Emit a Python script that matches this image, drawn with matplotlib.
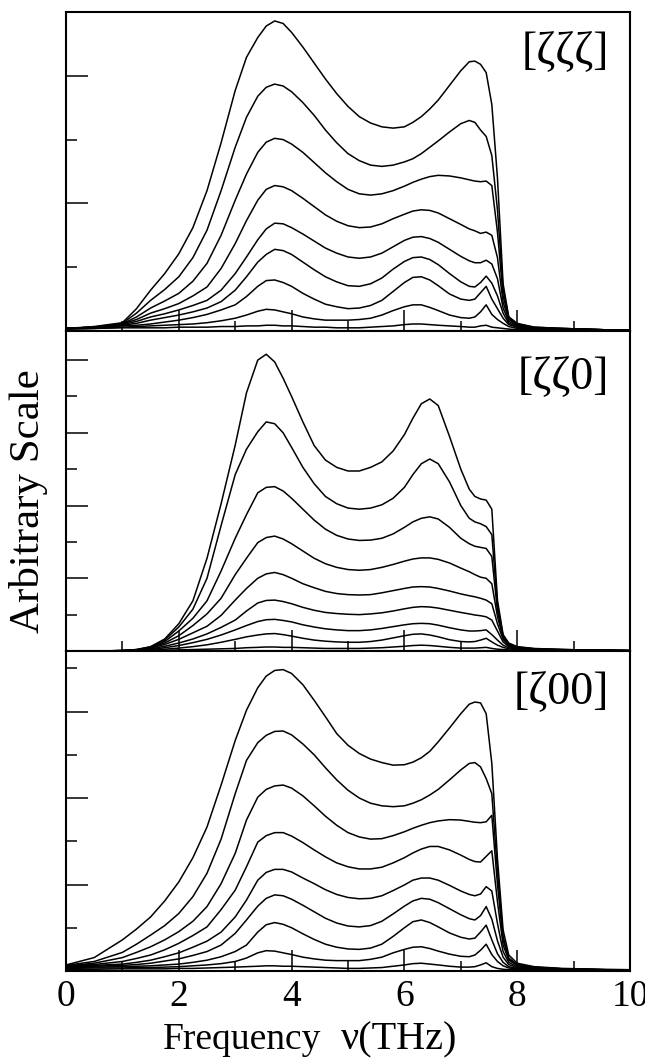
import numpy as np
import matplotlib
matplotlib.use('Agg')
import matplotlib.pyplot as plt
from matplotlib.ticker import MultipleLocator

plt.rcParams['font.family'] = ['Liberation Serif', 'DejaVu Serif']

# frequency grid (THz) the curves were read at
nu = [0, 0.5, 1.0, 1.25, 1.5, 1.75, 2.0, 2.25, 2.5, 2.75, 3.0, 3.2, 3.4, 3.55, 3.7, 3.85, 4.0,
      4.2, 4.4, 4.6, 4.8, 5.0, 5.2, 5.4, 5.6, 5.8, 6.0, 6.15, 6.3, 6.45, 6.6, 6.8, 7.0, 7.15, 7.25, 7.35, 7.45,
      7.55, 7.65, 7.75, 7.85, 8.0, 8.3, 8.8, 9.5, 10.0]

# [zzz] panel, curves from bottom to top
zzz = [
    [.03, .04, .05, .05, .05, .05, .06, .06, .06, .07, .07, .08, .08, .09, .09, .08, .08,
     .07, .06, .06, .05, .05, .05, .06, .07, .08, .10, .11, .11, .10, .09, .08, .07, .06, .06, .08, .09,
     .06, .05, .04, .03, .02, .02, .01, .01, .01],
    [.03, .04, .06, .07, .08, .09, .10, .11, .13, .16, .20, .25, .31, .34, .33, .30, .27,
     .22, .19, .17, .17, .17, .18, .20, .25, .32, .38, .41, .41, .37, .32, .25, .21, .20, .22, .30, .41,
     .26, .18, .12, .07, .04, .03, .02, .01, .01],
    [.04, .05, .08, .09, .11, .14, .17, .21, .26, .33, .41, .54, .70, .79, .80, .76, .70,
     .59, .50, .42, .38, .35, .36, .40, .48, .62, .76, .84, .85, .80, .71, .58, .50, .48, .50, .60, .70,
     .50, .35, .20, .10, .06, .04, .03, .02, .01],
    [.04, .05, .09, .12, .17, .21, .25, .30, .36, .46, .64, .85, 1.08, 1.20, 1.28, 1.26, 1.20,
     1.08, .96, .85, .77, .71, .70, .74, .83, .97, 1.09, 1.15, 1.16, 1.12, 1.04, .90, .77, .70, .69, .76, .86,
     .75, .55, .28, .12, .07, .04, .03, .02, .01],
    [.04, .06, .10, .15, .22, .27, .33, .40, .48, .64, .90, 1.16, 1.43, 1.60, 1.69, 1.68, 1.62,
     1.52, 1.41, 1.30, 1.22, 1.16, 1.14, 1.16, 1.22, 1.32, 1.42, 1.47, 1.48, 1.45, 1.39, 1.28, 1.17, 1.10, 1.07, 1.07, 1.11,
     1.05, .82, .36, .15, .08, .05, .03, .02, .01],
    [.04, .06, .11, .18, .28, .35, .43, .55, .69, .98, 1.37, 1.73, 2.05, 2.22, 2.28, 2.26, 2.20,
     2.08, 1.95, 1.82, 1.72, 1.65, 1.62, 1.63, 1.68, 1.76, 1.83, 1.88, 1.90, 1.89, 1.85, 1.76, 1.67, 1.60, 1.57, 1.53, 1.55,
     1.50, 1.15, .45, .18, .09, .05, .03, .02, .01],
    [.04, .06, .11, .22, .36, .47, .59, .78, 1.06, 1.50, 2.05, 2.46, 2.80, 2.96, 3.02, 3.00, 2.93,
     2.80, 2.64, 2.48, 2.34, 2.22, 2.15, 2.13, 2.15, 2.20, 2.27, 2.33, 2.38, 2.42, 2.44, 2.43, 2.40, 2.37, 2.35, 2.34, 2.35,
     2.28, 1.55, .55, .20, .10, .05, .04, .02, .01],
    [.04, .06, .12, .28, .48, .65, .85, 1.15, 1.58, 2.20, 2.88, 3.35, 3.68, 3.82, 3.87, 3.84, 3.75,
     3.58, 3.38, 3.15, 2.95, 2.78, 2.67, 2.60, 2.58, 2.60, 2.65, 2.70, 2.78, 2.88, 2.98, 3.12, 3.25, 3.30, 3.27, 3.15, 3.05,
     2.75, 1.90, .65, .22, .11, .06, .04, .02, .01],
    [.04, .07, .13, .35, .64, .90, 1.21, 1.62, 2.20, 2.95, 3.77, 4.29, 4.60, 4.78, 4.86, 4.82, 4.68,
     4.45, 4.20, 3.95, 3.72, 3.52, 3.36, 3.26, 3.20, 3.18, 3.20, 3.27, 3.36, 3.48, 3.62, 3.85, 4.08, 4.22, 4.23, 4.18, 4.05,
     3.55, 2.40, .74, .22, .12, .06, .04, .02, .01],
]

# [zz0] panel
zz0 = [
    [0, 0, 0, .01, .01, .02, .03, .04, .05, .06, .07, .09, .10, .11, .11, .10, .10,
     .09, .08, .07, .07, .07, .07, .08, .09, .11, .13, .15, .16, .15, .13, .10, .08, .08, .08, .09, .10,
     .07, .05, .04, .03, .02, .01, .01, .01, 0],
    [0, 0, 0, .01, .02, .05, .08, .12, .17, .24, .32, .39, .44, .47, .48, .45, .41,
     .35, .30, .27, .25, .24, .24, .26, .30, .36, .42, .46, .47, .44, .39, .31, .26, .25, .26, .30, .35,
     .25, .16, .10, .06, .04, .03, .02, .01, .01],
    [0, 0, .01, .02, .04, .09, .15, .23, .32, .44, .58, .70, .81, .86, .87, .84, .80,
     .72, .66, .61, .58, .56, .56, .58, .62, .67, .72, .75, .76, .75, .71, .64, .58, .55, .55, .56, .58,
     .45, .30, .16, .09, .05, .04, .03, .02, .01],
    [0, 0, .01, .02, .06, .13, .22, .33, .47, .65, .85, 1.10, 1.32, 1.39, 1.40, 1.36, 1.30,
     1.20, 1.12, 1.06, 1.03, 1.01, 1.00, 1.02, 1.05, 1.10, 1.16, 1.20, 1.22, 1.21, 1.18, 1.12, 1.06, 1.02, .99, .97, .94,
     .85, .55, .25, .12, .07, .04, .03, .02, .01],
    [0, 0, .01, .03, .08, .18, .32, .50, .68, .98, 1.40, 1.72, 2.00, 2.12, 2.16, 2.10, 2.00,
     1.85, 1.74, 1.64, 1.58, 1.55, 1.54, 1.55, 1.60, 1.66, 1.72, 1.76, 1.77, 1.76, 1.72, 1.65, 1.57, 1.52, 1.49, 1.45, 1.40,
     1.30, .75, .32, .15, .08, .05, .03, .02, .01],
    [0, 0, .01, .03, .09, .22, .42, .70, 1.02, 1.45, 2.10, 2.55, 2.98, 3.12, 3.16, 3.08, 2.95,
     2.75, 2.55, 2.40, 2.30, 2.24, 2.22, 2.24, 2.30, 2.38, 2.47, 2.53, 2.56, 2.56, 2.52, 2.42, 2.28, 2.18, 2.10, 2.03, 2.00,
     1.85, .95, .36, .17, .09, .05, .03, .02, .01],
    [0, 0, .01, .03, .10, .26, .55, .90, 1.38, 2.20, 3.10, 3.75, 4.35, 4.50, 4.52, 4.40, 4.20,
     3.90, 3.60, 3.35, 3.18, 3.08, 3.04, 3.05, 3.10, 3.22, 3.40, 3.55, 3.65, 3.69, 3.63, 3.40, 3.10, 2.95, 2.88, 2.85, 2.82,
     2.60, 1.10, .40, .19, .10, .06, .04, .02, .01],
    [0, 0, .01, .04, .11, .30, .66, 1.15, 2.00, 3.45, 4.85, 5.55, 6.03, 6.30, 6.25, 6.00, 5.60,
     5.05, 4.60, 4.25, 4.05, 3.93, 3.90, 3.93, 4.02, 4.20, 4.50, 4.85, 5.15, 5.28, 5.15, 4.65, 4.00, 3.65, 3.55, 3.50, 3.42,
     3.20, 1.25, .42, .20, .11, .06, .04, .02, .01],
    [0, 0, .01, .04, .12, .33, .75, 1.38, 2.55, 4.05, 5.66, 7.10, 8.00, 8.16, 7.95, 7.50, 7.00,
     6.30, 5.65, 5.25, 5.05, 4.95, 4.95, 5.05, 5.20, 5.50, 5.95, 6.40, 6.80, 6.93, 6.75, 5.90, 5.00, 4.45, 4.25, 4.18, 4.15,
     3.90, 1.40, .45, .22, .12, .07, .04, .02, .01],
]

# [z00] panel
z00 = [
    [.04, .04, .05, .05, .05, .05, .06, .06, .07, .08, .09, .10, .11, .12, .12, .11, .11,
     .10, .09, .08, .07, .06, .06, .07, .08, .11, .14, .17, .18, .16, .14, .11, .09, .09, .10, .14, .19,
     .10, .06, .04, .03, .03, .02, .02, .01, .01],
    [.06, .07, .07, .08, .08, .09, .10, .12, .14, .17, .22, .30, .42, .47, .46, .42, .38,
     .32, .28, .25, .24, .24, .24, .27, .32, .42, .50, .55, .56, .52, .46, .39, .34, .33, .37, .48, .62,
     .38, .22, .12, .07, .05, .03, .02, .02, .01],
    [.08, .09, .10, .11, .12, .14, .16, .20, .25, .33, .45, .60, .90, 1.07, 1.12, 1.08, 1.00,
     .86, .73, .62, .55, .51, .50, .53, .62, .80, 1.00, 1.14, 1.18, 1.12, 1.02, .88, .78, .74, .76, .90, 1.06,
     .72, .40, .20, .10, .06, .04, .03, .02, .01],
    [.10, .11, .13, .15, .18, .23, .28, .36, .45, .60, .87, 1.18, 1.50, 1.68, 1.76, 1.74, 1.66,
     1.52, 1.37, 1.22, 1.11, 1.04, 1.02, 1.05, 1.15, 1.32, 1.50, 1.62, 1.68, 1.66, 1.58, 1.44, 1.30, 1.21, 1.18, 1.28, 1.49,
     1.20, .70, .32, .15, .08, .05, .03, .02, .02],
    [.12, .13, .16, .20, .25, .33, .42, .55, .69, .90, 1.25, 1.64, 2.10, 2.28, 2.35, 2.35, 2.29,
     2.15, 2.02, 1.88, 1.77, 1.70, 1.67, 1.68, 1.74, 1.86, 1.99, 2.10, 2.15, 2.15, 2.10, 1.98, 1.85, 1.77, 1.74, 1.78, 1.95,
     1.85, 1.10, .45, .20, .10, .06, .04, .03, .02],
    [.12, .15, .22, .29, .37, .49, .64, .82, 1.02, 1.42, 1.87, 2.41, 2.98, 3.13, 3.20, 3.20, 3.12,
     2.97, 2.80, 2.64, 2.50, 2.41, 2.36, 2.36, 2.40, 2.50, 2.62, 2.73, 2.82, 2.88, 2.88, 2.80, 2.68, 2.58, 2.53, 2.52, 2.65,
     2.78, 1.60, .60, .25, .13, .07, .05, .03, .02],
    [.12, .18, .31, .43, .56, .72, .91, 1.15, 1.49, 2.02, 2.72, 3.49, 4.02, 4.20, 4.28, 4.30, 4.23,
     4.05, 3.82, 3.58, 3.37, 3.20, 3.10, 3.05, 3.06, 3.13, 3.22, 3.30, 3.37, 3.43, 3.47, 3.50, 3.49, 3.46, 3.44, 3.43, 3.45,
     3.60, 2.00, .72, .28, .14, .08, .05, .03, .02],
    [.13, .22, .43, .62, .83, 1.05, 1.33, 1.72, 2.26, 3.05, 4.10, 4.87, 5.28, 5.45, 5.54, 5.55, 5.46,
     5.25, 5.00, 4.70, 4.42, 4.18, 4.00, 3.88, 3.82, 3.80, 3.82, 3.88, 3.96, 4.07, 4.20, 4.42, 4.65, 4.80, 4.82, 4.72, 4.45,
     4.10, 2.30, .80, .30, .15, .09, .05, .03, .02],
    [.14, .31, .72, .97, 1.25, 1.62, 2.06, 2.62, 3.33, 4.30, 5.33, 6.03, 6.55, 6.82, 6.95, 6.97, 6.88,
     6.62, 6.26, 5.88, 5.49, 5.22, 5.03, 4.90, 4.82, 4.76, 4.77, 4.83, 4.93, 5.08, 5.30, 5.62, 5.95, 6.17, 6.22, 6.20, 5.95,
     4.80, 2.60, .95, .37, .18, .10, .06, .04, .03],
]

panels = [(zzz, 5.0, '[ζζζ]', 0.94), (zz0, 8.8, '[ζζ0]', 0.92), (z00, 7.4, '[ζ00]', 0.935)]

fig = plt.figure(figsize=(6.45, 10.59), dpi=100)
left, width = 66 / 645, 564 / 645
tops = [12, 331, 651]
bots = [331, 651, 971]

for i, (curves, ymax, label, ly) in enumerate(panels):
    b = 1 - bots[i] / 1059
    h = (bots[i] - tops[i]) / 1059
    ax = fig.add_axes([left, b, width, h])
    for c in curves:
        ax.plot(nu, c, color='black', lw=1.1)
    ax.set_xlim(0, 10)
    ax.set_ylim(0, ymax)
    ax.xaxis.set_major_locator(MultipleLocator(2))
    ax.xaxis.set_minor_locator(MultipleLocator(1))
    ax.yaxis.set_major_locator(MultipleLocator(2))
    ax.yaxis.set_minor_locator(MultipleLocator(1))
    ax.tick_params(which='both', direction='in', top=False, right=False, width=1.1)
    ax.tick_params(axis='x', which='major', length=15)
    ax.tick_params(axis='x', which='minor', length=7.5)
    ax.tick_params(axis='y', which='major', length=16)
    ax.tick_params(axis='y', which='minor', length=8)
    ax.tick_params(axis='y', labelleft=False)
    for s in ax.spines.values():
        s.set_linewidth(1.5)
    if i < 2:
        ax.tick_params(axis='x', labelbottom=False)
    else:
        ax.tick_params(axis='x', labelsize=27, pad=6)
    ax.text(0.963, ly, label, transform=ax.transAxes, ha='right', va='top', fontsize=33)

# axis titles
fig.text(163 / 645, 1 - 1040 / 1059, 'Frequency', ha='left', va='center', fontsize=27)
fig.text(341 / 645, 1 - 1040 / 1059, 'ν(THz)', ha='left', va='center', fontsize=29)
fig.text(29 / 645, 1 - 501 / 1059, 'Arbitrary Scale', rotation=90, ha='center', va='center', fontsize=31)

fig.savefig('out.png', dpi=100)
